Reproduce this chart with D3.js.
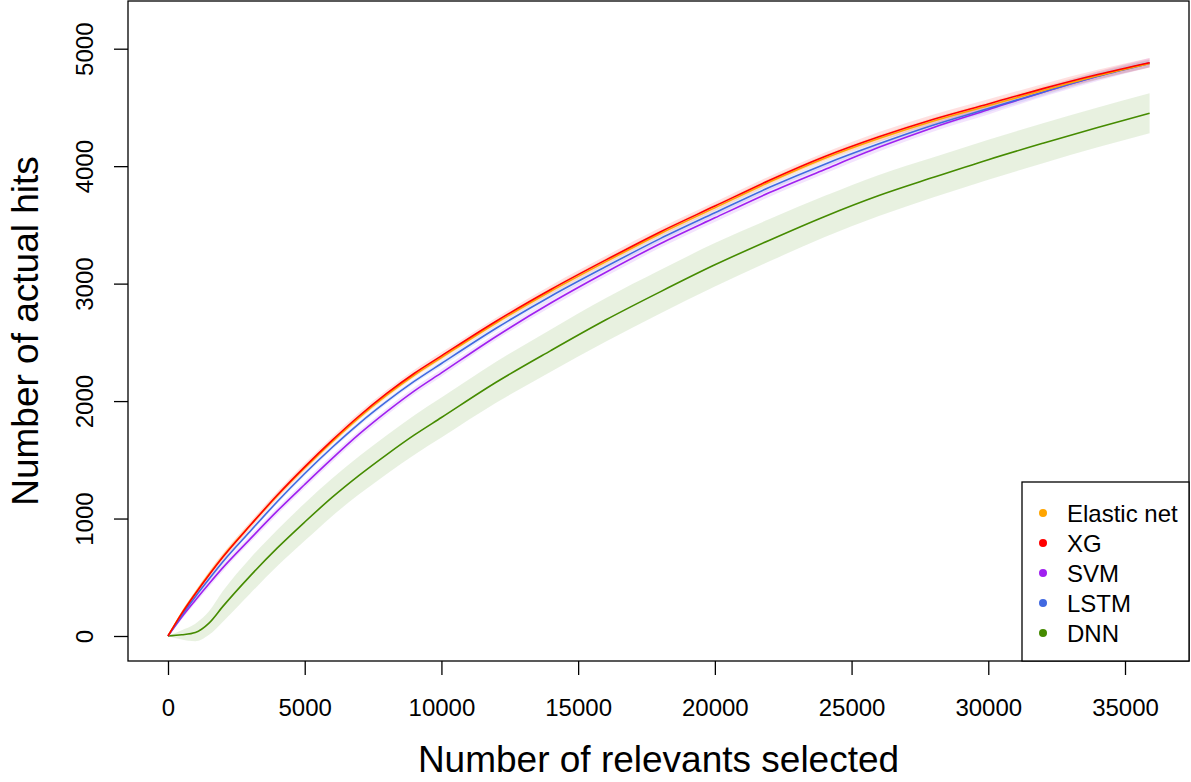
<!DOCTYPE html>
<html>
<head>
<meta charset="utf-8">
<script src="https://cdn.jsdelivr.net/npm/d3@7"></script>
<style>
	body { margin: 0; background: #fff; }
	svg { display: block; font-family: "Liberation Sans", Arial, sans-serif; }
</style>
</head>
<body>
<div class="chart__hits"><svg></svg></div>
<script>
// DATA
var xSelected   = [0, 500, 1000, 1500, 2000, 3000, 4000, 5000, 6000, 7000, 8000, 9000, 10000, 12000, 14000, 16000, 18000, 20000, 22000, 24000, 26000, 28000, 30000, 32000, 34000, 35900];
var elasticHits = [0, 195, 365, 525, 675, 940, 1195, 1430, 1653, 1862, 2050, 2220, 2370, 2665, 2935, 3185, 3425, 3645, 3865, 4065, 4235, 4385, 4515, 4645, 4770, 4875];
var xgHits      = [0, 190, 360, 520, 670, 940, 1200, 1440, 1665, 1875, 2065, 2235, 2385, 2680, 2950, 3200, 3440, 3660, 3880, 4080, 4250, 4400, 4530, 4660, 4780, 4880];
var svmHits     = [0, 160, 305, 445, 580, 825, 1065, 1290, 1510, 1720, 1910, 2085, 2240, 2550, 2835, 3095, 3340, 3560, 3775, 3970, 4160, 4330, 4480, 4630, 4765, 4880];
var lstmHits    = [0, 175, 335, 485, 630, 890, 1145, 1383, 1605, 1811, 1997, 2167, 2320, 2620, 2893, 3143, 3383, 3603, 3820, 4015, 4190, 4350, 4490, 4630, 4765, 4875];
var dnnHits     = [0, 10, 30, 110, 250, 510, 750, 970, 1180, 1370, 1545, 1710, 1860, 2160, 2430, 2690, 2930, 3160, 3370, 3570, 3750, 3905, 4055, 4195, 4330, 4450];

// half widths of the shaded bands
var elasticSpread = [0, 15, 20, 25, 25, 25, 25, 25, 25, 25, 25, 25, 25, 25, 30, 30, 30, 30, 30, 30, 30, 30, 30, 35, 35, 35];
var xgSpread      = [0, 20, 25, 30, 30, 30, 30, 30, 30, 30, 30, 30, 30, 30, 35, 35, 35, 35, 35, 35, 40, 40, 40, 40, 40, 40];
var svmSpread     = [0, 20, 25, 30, 30, 30, 30, 30, 30, 30, 30, 30, 30, 30, 35, 35, 35, 35, 35, 35, 35, 35, 40, 40, 40, 40];
var lstmSpread    = [0, 15, 20, 20, 20, 20, 20, 20, 20, 20, 20, 20, 25, 25, 25, 25, 25, 25, 25, 25, 25, 30, 30, 30, 30, 30];
var dnnSpread     = [0, 40, 75, 100, 130, 150, 155, 160, 160, 162, 165, 168, 170, 175, 180, 185, 185, 185, 180, 175, 175, 170, 170, 170, 170, 170];

var modelNames  = ["Elastic net", "XG", "SVM", "LSTM", "DNN"];
var modelColors = ["#FFA500", "#FF0000", "#A020F0", "#4169E1", "#458B00"];
var xTicks = [0, 5000, 10000, 15000, 20000, 25000, 30000, 35000];
var yTicks = [0, 1000, 2000, 3000, 4000, 5000];

(function() {

	var width = 1191;
	var height = 782;
	var box = { left: 128, right: 1189, top: 1, bottom: 661 };
	var scales = {};
	var svg = d3.select('.chart__hits').select('svg')
		.attr('width', width)
		.attr('height', height);

	function buildSeries() {
		var hits = [elasticHits, xgHits, svmHits, lstmHits, dnnHits];
		var spread = [elasticSpread, xgSpread, svmSpread, lstmSpread, dnnSpread];
		return modelNames.map(function(name, k) {
			return {
				name: name,
				color: modelColors[k],
				values: xSelected.map(function(x, i) {
					return { x: x, y: hits[k][i], lo: hits[k][i] - spread[k][i], hi: hits[k][i] + spread[k][i] };
				})
			};
		});
	}

	function setupScales() {
		// 0 -> 168px, 35000 -> 1125px ; 0 -> 636px, 5000 -> 48.7px
		var kx = (1125 - 168) / 35000;
		var ky = (636 - 48.7) / 5000;
		scales.x = d3.scaleLinear()
			.domain([(box.left - 168) / kx, (box.right - 168) / kx])
			.range([box.left, box.right]);
		scales.y = d3.scaleLinear()
			.domain([(636 - box.bottom) / ky, (636 - box.top) / ky])
			.range([box.bottom, box.top]);
	}

	function drawAxes() {
		var xaxis = svg.append('g')
			.attr('class', 'axis axis--x')
			.attr('transform', 'translate(0,' + box.bottom + ')')
			.call(d3.axisBottom(scales.x).tickValues(xTicks).tickSize(14).tickSizeOuter(0).tickFormat(d3.format('d')));
		xaxis.select('.domain').remove();
		xaxis.selectAll('line').attr('stroke', '#000').attr('stroke-width', 1.3);
		xaxis.selectAll('text')
			.attr('y', 55).attr('dy', null)
			.attr('font-size', 24).attr('fill', '#000')
			.attr('font-family', '"Liberation Sans", Arial, sans-serif');

		var yaxis = svg.append('g')
			.attr('class', 'axis axis--y')
			.attr('transform', 'translate(' + box.left + ',0)')
			.call(d3.axisLeft(scales.y).tickValues(yTicks).tickSize(14).tickSizeOuter(0).tickFormat(d3.format('d')));
		yaxis.select('.domain').remove();
		yaxis.selectAll('line').attr('stroke', '#000').attr('stroke-width', 1.3);
		yaxis.selectAll('text')
			.attr('x', null).attr('dy', null)
			.attr('transform', 'translate(-35,0) rotate(-90)')
			.attr('text-anchor', 'middle')
			.attr('font-size', 24).attr('fill', '#000')
			.attr('font-family', '"Liberation Sans", Arial, sans-serif');

		svg.append('text')
			.attr('x', (box.left + box.right) / 2)
			.attr('y', 772)
			.attr('text-anchor', 'middle')
			.attr('font-size', 37)
			.text('Number of relevants selected');

		svg.append('text')
			.attr('transform', 'translate(38,' + (box.top + box.bottom) / 2 + ') rotate(-90)')
			.attr('text-anchor', 'middle')
			.attr('font-size', 37)
			.text('Number of actual hits');
	}

	function drawSeries(series) {
		var band = d3.area()
			.x(function(d) { return scales.x(d.x); })
			.y0(function(d) { return scales.y(d.lo); })
			.y1(function(d) { return scales.y(d.hi); })
			.curve(d3.curveMonotoneX);
		var line = d3.line()
			.x(function(d) { return scales.x(d.x); })
			.y(function(d) { return scales.y(d.y); })
			.curve(d3.curveMonotoneX);

		svg.append('g').selectAll('.band')
			.data(series)
			.enter()
			.append('path')
			.attr('class', 'band')
			.attr('d', function(d) { return band(d.values); })
			.attr('fill', function(d) { return d.color; })
			.attr('fill-opacity', 0.12);

		// draw order: DNN, SVM, LSTM, Elastic net, XG
		var order = [4, 2, 3, 0, 1];
		svg.append('g').selectAll('.line')
			.data(order.map(function(i) { return series[i]; }))
			.enter()
			.append('path')
			.attr('class', 'line')
			.attr('d', function(d) { return line(d.values); })
			.attr('fill', 'none')
			.attr('stroke', function(d) { return d.color; })
			.attr('stroke-width', 1.6);
	}

	function drawLegend() {
		var lg = svg.append('g').attr('class', 'legend');
		lg.append('rect')
			.attr('x', 1022).attr('y', 482)
			.attr('width', box.right - 1022).attr('height', box.bottom - 482)
			.attr('fill', '#fff').attr('stroke', '#000').attr('stroke-width', 1.3);
		var item = lg.selectAll('.item')
			.data(modelNames)
			.enter()
			.append('g')
			.attr('class', 'item')
			.attr('transform', function(d, i) { return 'translate(1043,' + (513 + i * 30) + ')'; });
		item.append('circle')
			.attr('r', 4)
			.attr('fill', function(d, i) { return modelColors[i]; });
		item.append('text')
			.attr('x', 24)
			.attr('y', 9)
			.attr('font-size', 24)
			.text(function(d) { return d; });
	}

	function init() {
		setupScales();
		var series = buildSeries();
		drawSeries(series);
		svg.append('rect')
			.attr('x', box.left).attr('y', box.top)
			.attr('width', box.right - box.left).attr('height', box.bottom - box.top)
			.attr('fill', 'none').attr('stroke', '#000').attr('stroke-width', 1.3);
		drawAxes();
		drawLegend();
	}

	init();
})();
</script>
</body>
</html>
